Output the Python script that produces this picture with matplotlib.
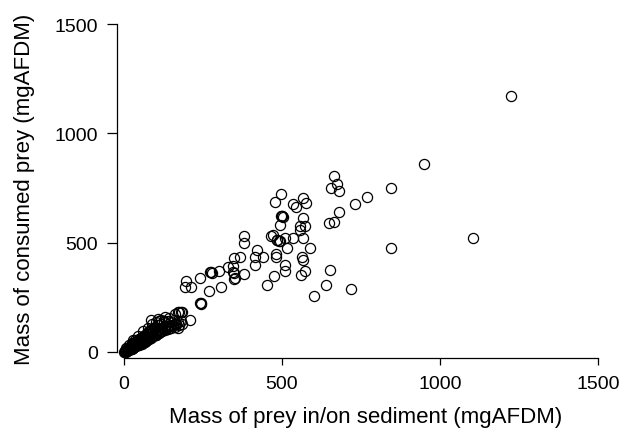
import matplotlib
matplotlib.use("Agg")
import matplotlib.pyplot as plt

plt.rcParams['font.family'] = ['Liberation Sans', 'DejaVu Sans']

# dense cluster near the origin
cluster_x = [1, 2, 3, 4, 5, 6, 7, 8, 9, 10, 11, 12, 13, 14, 15, 16, 17, 18, 19, 20,
             21, 22, 23, 24, 25, 26, 27, 28, 29, 30, 31, 32, 33, 35, 36, 38, 39, 40, 41, 43,
             44, 45, 47, 48, 50, 51, 53, 55, 56, 58, 60, 62, 63, 65, 67, 68, 70, 72, 74, 75,
             77, 79, 80, 82, 84, 85, 87, 90, 92, 94, 96, 98, 100, 102, 105, 108, 110, 113, 115, 118,
             120, 125, 130, 135, 140, 145, 150, 155, 160, 165, 170, 175, 180, 185,
             30, 45, 60, 75, 88, 100, 110, 125, 5, 15, 25, 35,
             10, 20, 30, 40, 50, 60, 70, 80, 90, 100, 110, 120, 130, 140, 150, 160, 170,
             18, 28, 38, 48, 58, 68, 78, 88, 98, 108, 118, 128, 138, 148, 158]
cluster_y = [0, 3, 1, 6, 2, 8, 4, 10, 5, 12, 7, 15, 9, 18, 10, 20, 12, 22, 14, 25,
             13, 28, 17, 30, 16, 33, 20, 35, 19, 38, 22, 40, 24, 44, 26, 46, 28, 50, 30, 52,
             32, 55, 34, 58, 36, 60, 40, 63, 38, 68, 44, 70, 46, 75, 48, 80, 52, 84, 55, 90,
             58, 94, 60, 98, 64, 100, 68, 105, 72, 108, 76, 112, 80, 88, 95, 85, 100, 92, 104, 98,
             110, 108, 115, 112, 120, 118, 125, 122, 130, 128, 135, 125, 140, 130,
             55, 75, 95, 110, 128, 135, 140, 140, 20, 30, 42, 55,
             9, 16, 24, 32, 40, 48, 56, 64, 72, 78, 86, 94, 100, 106, 112, 116, 108,
             22, 34, 46, 57, 68, 80, 92, 102, 114, 122, 130, 136, 142, 138, 146]

# scattered open circles
open_x = [1225, 1104, 950, 844, 844, 769, 732, 681, 665, 675, 654, 681, 650, 663, 651, 638,
          718, 600, 496, 479, 536, 544, 567, 577, 567, 495, 557, 572, 556, 566, 536, 510,
          471, 464, 515, 590, 422, 380, 380, 348, 368, 415, 441, 415, 481, 480, 563, 567,
          572, 559, 510, 510, 476, 452, 380, 345,
          196, 192, 211, 241, 302, 330, 270, 306, 209, 161, 164, 87, 117, 141, 109, 130]
open_y = [1171, 521, 858, 752, 477, 711, 676, 639, 804, 769, 752, 737, 592, 595, 377, 305,
          288, 258, 721, 686, 676, 665, 706, 680, 614, 582, 578, 575, 558, 520, 520, 522,
          537, 529, 477, 477, 467, 529, 497, 429, 433, 435, 433, 398, 450, 435, 435, 422,
          371, 354, 398, 372, 348, 305, 358, 395,
          323, 299, 299, 339, 369, 389, 279, 299, 148, 172, 127, 145, 145, 154, 151, 159]

# overlapping stacks that look dark
stack_x = [500, 502, 498, 501, 483, 485, 494, 492, 349, 351, 345, 347, 275, 277, 273,
           243, 245, 241, 180, 182, 172, 174]
stack_y = [621, 619, 623, 624, 512, 514, 508, 506, 335, 338, 365, 362, 365, 362, 367,
           224, 221, 226, 184, 181, 182, 185]

all_x = cluster_x + open_x + stack_x
all_y = cluster_y + open_y + stack_y

fig = plt.figure(figsize=(6.4, 4.31), dpi=100)
ax = fig.add_axes([124 / 640, 78 / 431, 474 / 640, 328 / 431])

ax.plot(all_x, all_y, linestyle='none', marker='o', markersize=7.3,
        markerfacecolor='none', markeredgecolor='black', markeredgewidth=0.9,
        clip_on=False)

ax.set_xlim(0, 1500)
ax.set_ylim(0, 1500)
ax.set_xticks([0, 500, 1000, 1500])
ax.set_yticks([0, 500, 1000, 1500])

for s in ['top', 'right']:
    ax.spines[s].set_visible(False)
ax.spines['left'].set_position(('outward', 5))
ax.spines['bottom'].set_position(('outward', 4.3))
ax.spines['left'].set_bounds(0, 1500)
ax.spines['bottom'].set_bounds(0, 1500)
for s in ['left', 'bottom']:
    ax.spines[s].set_linewidth(0.9)

ax.tick_params(axis='y', length=7.5, width=0.9, pad=6, labelsize=14)
ax.tick_params(axis='x', length=5, width=0.9, pad=7, labelsize=14)

ax.set_xlabel('Mass of prey in/on sediment (mgAFDM)', fontsize=16, labelpad=10)
ax.set_ylabel('Mass of consumed prey (mgAFDM)', fontsize=16, labelpad=14)
ax.xaxis.label.set_x(0.51)

fig.savefig('out.png', dpi=100)
